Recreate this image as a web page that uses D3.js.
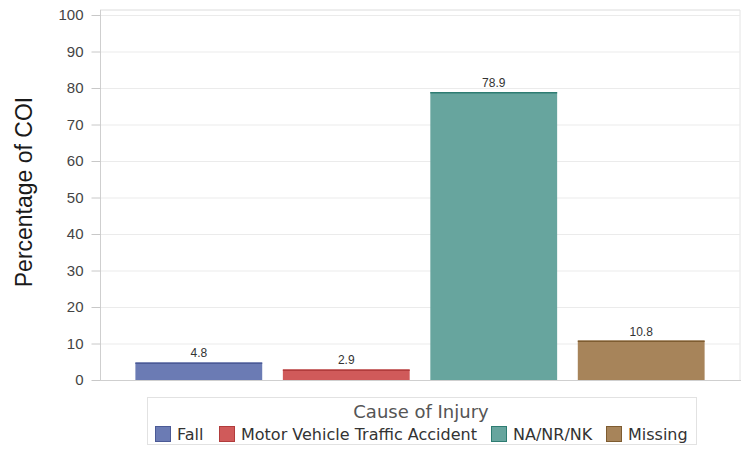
<!DOCTYPE html>
<html>
<head>
<meta charset="utf-8">
<script src="https://cdn.jsdelivr.net/npm/d3@7"></script>
<style>
  body { margin: 0; background: #fff; }
  svg { display: block; font-family: "Liberation Sans", Arial, sans-serif; }
</style>
</head>
<body>
<div id="chart"></div>
<script>
// data
const causes = ["Fall", "Motor Vehicle Traffic Accident", "NA/NR/NK", "Missing"];
const percents = [4.8, 2.9, 78.9, 10.8];
const yTicks = [0, 10, 20, 30, 40, 50, 60, 70, 80, 90, 100];
const fills = ["#6b7bb4", "#d05a5a", "#67a59e", "#a7845a"];
const edges = ["#4b5a96", "#b13c3c", "#2e7c72", "#7e5c30"];

const width = 741, height = 451;
const plot = { left: 100, right: 740, top: 10, bottom: 380 };

const svg = d3.select("#chart").append("svg")
    .attr("width", width)
    .attr("height", height);

const x = d3.scaleBand()
    .domain(causes)
    .range([plot.left, plot.right])
    .paddingInner(0.14)
    .paddingOuter(0.24);

const y = d3.scaleLinear()
    .domain([0, 100])
    .range([plot.bottom, 15]);

// frame top + right
svg.append("line")
    .attr("x1", plot.left).attr("x2", plot.right)
    .attr("y1", plot.top).attr("y2", plot.top)
    .attr("stroke", "#dcdcdc");
svg.append("line")
    .attr("x1", plot.right).attr("x2", plot.right)
    .attr("y1", plot.top).attr("y2", plot.bottom)
    .attr("stroke", "#e4e4e4");

// grid lines
svg.selectAll(".grid-line")
    .data(yTicks.filter(d => d > 0))
    .enter()
    .append("line")
    .attr("class", "grid-line")
    .attr("x1", plot.left)
    .attr("x2", plot.right)
    .attr("y1", d => y(d) + 0.5)
    .attr("y2", d => y(d) + 0.5)
    .attr("stroke", "#ebebeb");

// y axis
svg.append("g")
    .attr("transform", `translate(${plot.left + 0.5},0)`)
    .call(d3.axisLeft(y).tickValues(yTicks).tickSize(9).tickPadding(8).tickSizeOuter(0))
    .call(g => g.select(".domain").attr("stroke", "#cfcfcf").attr("d", `M0,${plot.top}V${plot.bottom}`))
    .call(g => g.selectAll(".tick line").attr("stroke", "#c8c8c8"))
    .call(g => g.selectAll(".tick text")
        .attr("fill", "#444")
        .attr("font-size", "15px")
        .attr("font-family", "'Liberation Sans', Arial, sans-serif"));

// baseline
svg.append("line")
    .attr("x1", plot.left).attr("x2", plot.right + 1)
    .attr("y1", plot.bottom + 0.5).attr("y2", plot.bottom + 0.5)
    .attr("stroke", "#cfcfcf");

// y label
svg.append("text")
    .attr("transform", "translate(32,192) rotate(-90)")
    .attr("text-anchor", "middle")
    .attr("font-size", "23px")
    .attr("fill", "#1a1a1a")
    .text("Percentage of COI");

// bars
const bars = svg.selectAll(".bar")
    .data(percents)
    .enter()
    .append("g")
    .attr("class", "bar");

bars.append("rect")
    .attr("x", (d, i) => x(causes[i]))
    .attr("y", d => y(d))
    .attr("width", x.bandwidth())
    .attr("height", d => y(0) - y(d))
    .attr("fill", (d, i) => fills[i]);

bars.append("line")
    .attr("x1", (d, i) => x(causes[i]))
    .attr("x2", (d, i) => x(causes[i]) + x.bandwidth())
    .attr("y1", d => y(d) + 0.75)
    .attr("y2", d => y(d) + 0.75)
    .attr("stroke", (d, i) => edges[i])
    .attr("stroke-width", 1.5);

bars.append("text")
    .attr("x", (d, i) => x(causes[i]) + x.bandwidth() / 2)
    .attr("y", d => y(d) - 5)
    .attr("text-anchor", "middle")
    .attr("font-size", "12px")
    .attr("fill", "#333")
    .text(d => d.toFixed(1));

// legend
const legend = svg.append("g")
    .attr("font-family", "'DejaVu Sans', sans-serif");
legend.append("rect")
    .attr("x", 147.5).attr("y", 397.5)
    .attr("width", 549).attr("height", 47)
    .attr("fill", "#fff")
    .attr("stroke", "#e2e2e2");

legend.append("text")
    .attr("x", 421).attr("y", 418)
    .attr("text-anchor", "middle")
    .attr("font-size", "18px")
    .attr("fill", "#555")
    .text("Cause of Injury");

const swatchX = [155, 219, 491, 606];
const items = legend.selectAll(".item")
    .data(causes)
    .enter()
    .append("g")
    .attr("class", "item")
    .attr("transform", (d, i) => `translate(${swatchX[i]},426)`);

items.append("rect")
    .attr("x", 0.5).attr("y", 0.5)
    .attr("width", 15).attr("height", 15)
    .attr("fill", (d, i) => fills[i])
    .attr("stroke", (d, i) => edges[i])
    .attr("stroke-width", 1);

items.append("text")
    .attr("x", 22)
    .attr("y", 13.5)
    .attr("font-size", "16px")
    .attr("fill", "#333")
    .text(d => d);
</script>
</body>
</html>
